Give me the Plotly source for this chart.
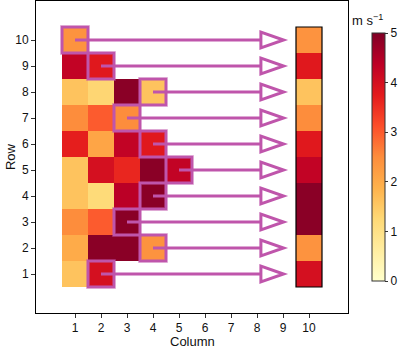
import plotly.graph_objects as go

# Data: each row's filled cell values (columns 1..n); last value is the highlighted cell
rows = [1, 2, 3, 4, 5, 6, 7, 8, 9, 10]
row_values = [
    [1.6, 4.0],                    # row 1
    [2.0, 4.9, 4.9, 2.4],          # row 2
    [2.5, 3.0, 4.9],               # row 3
    [1.6, 1.2, 4.4, 4.9],          # row 4
    [1.6, 4.0, 3.6, 4.9, 4.3],     # row 5
    [3.7, 2.1, 4.3, 3.8],          # row 6
    [2.5, 3.0, 2.5],               # row 7
    [1.6, 1.3, 4.9, 1.6],          # row 8
    [4.3, 3.8],                    # row 9
    [2.4],                         # row 10
]
columns = [1, 2, 3, 4, 5, 6, 7, 8, 9, 10]
target_col = 10
cbar_ticks = [0, 1, 2, 3, 4, 5]

colorscale = [
    [0.0, "#ffffcc"], [0.125, "#ffeda0"], [0.25, "#fed976"], [0.375, "#feb24c"],
    [0.5, "#fd8d3c"], [0.625, "#fc4e2a"], [0.75, "#e31a1c"], [0.875, "#bd0026"],
    [1.0, "#800026"],
]

z = []
for vals in row_values:
    r = [None] * len(columns)
    for i, v in enumerate(vals):
        r[i] = v
    r[target_col - 1] = vals[-1]
    z.append(r)

MAG = "#BF55AB"

fig = go.Figure()
fig.add_trace(go.Heatmap(
    x=columns, y=rows, z=z, zmin=0, zmax=5, colorscale=colorscale,
    hoverongaps=False,
    colorbar=dict(
        thickness=13, lenmode="pixels", len=248, x=1.077, xanchor="left", xpad=0,
        y=0.5, yanchor="middle", ypad=0,
        outlinewidth=1, outlinecolor="#333",
        tickvals=cbar_ticks, ticks="outside", ticklen=3, tickcolor="#333",
        tickfont=dict(size=12, color="#111"),
    ),
))

shapes = []
for row, vals in zip(rows, row_values):
    c = len(vals)
    shapes.append(dict(type="rect", xref="x", yref="y", x0=c - 0.5, x1=c + 0.5,
                       y0=row - 0.5, y1=row + 0.5,
                       line=dict(color="rgba(191,85,171,0.35)", width=4)))
    shapes.append(dict(type="rect", xref="x", yref="y", x0=c - 0.5, x1=c + 0.5,
                       y0=row - 0.5, y1=row + 0.5,
                       line=dict(color=MAG, width=2.5)))
for row, vals in zip(rows, row_values):
    c = len(vals)
    shapes.append(dict(type="line", xref="x", yref="y", x0=c, x1=8.15, y0=row, y1=row,
                       line=dict(color=MAG, width=3)))
    shapes.append(dict(type="path", xref="x", yref="y",
                       path=f"M 8.15,{row - 0.3} L 9.02,{row} L 8.15,{row + 0.3} Z",
                       fillcolor="white", line=dict(color=MAG, width=3)))
shapes.append(dict(type="rect", xref="x", yref="y", x0=target_col - 0.5, x1=target_col + 0.5,
                   y0=0.5, y1=10.5, line=dict(color="black", width=1.2)))

axis_common = dict(range=[-0.5, 11.5], ticks="outside", ticklen=4, tickcolor="#333",
                   showgrid=False, zeroline=False, showline=True, linecolor="black",
                   linewidth=1, mirror=True, automargin=False,
                   tickfont=dict(size=12, color="#111"))

fig.update_layout(
    width=401, height=351,
    margin=dict(l=36, r=53, t=1, b=38),
    paper_bgcolor="white", plot_bgcolor="white",
    font=dict(family="Liberation Sans, Arial, sans-serif", size=12, color="#111"),
    shapes=shapes,
    xaxis=dict(tickvals=columns, **axis_common),
    yaxis=dict(tickvals=rows, **axis_common),
    annotations=[
        dict(text="m s<sup>−1</sup>", xref="paper", yref="paper",
             x=1.064, y=0.94, showarrow=False, xanchor="center", yanchor="middle",
             font=dict(size=13, color="#111")),
        dict(text="Column", xref="paper", yref="paper", x=0.5, y=-0.121,
             showarrow=False, xanchor="center", yanchor="bottom",
             font=dict(size=13, color="#111")),
        dict(text="Row", xref="paper", yref="paper", x=-0.083, y=0.5, textangle=-90,
             showarrow=False, xanchor="center", yanchor="middle",
             font=dict(size=13, color="#111")),
    ],
)

fig.write_html("out.html", post_script="document.body.style.margin='0';",
               config={"displayModeBar": False})
